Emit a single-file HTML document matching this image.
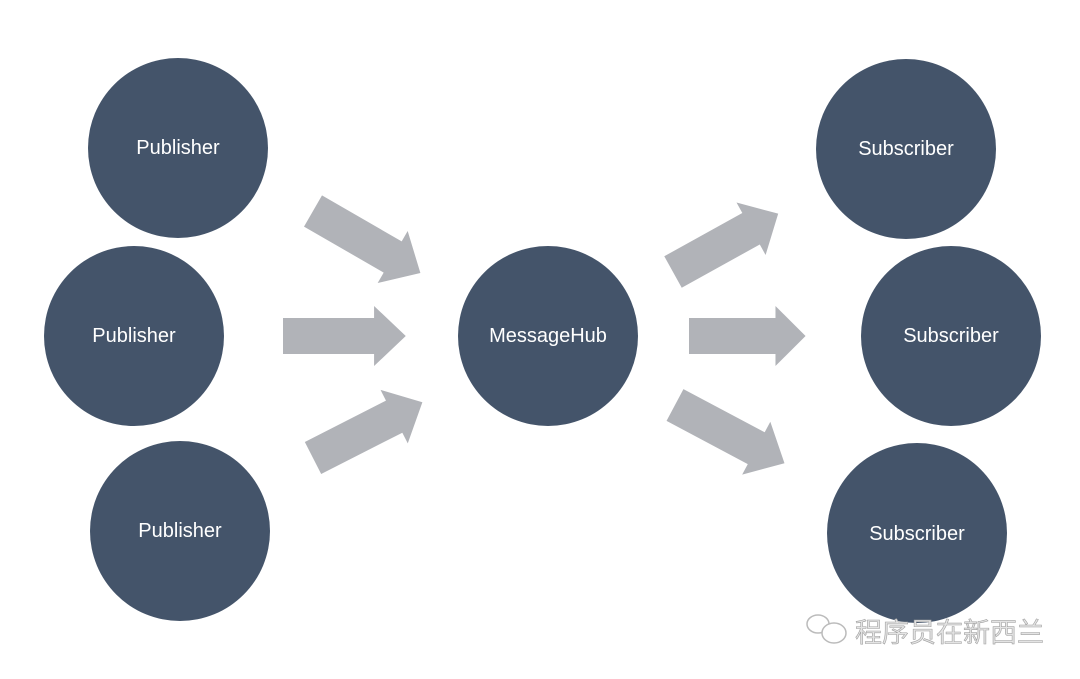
<!DOCTYPE html>
<html><head><meta charset="utf-8"><style>
html,body{margin:0;padding:0;background:#fff;}
svg{display:block;}
</style></head><body>
<svg width="1080" height="679" viewBox="0 0 1080 679" xmlns="http://www.w3.org/2000/svg">
<defs>
<path id="ar" d="M0,-18 L92,-18 L92,-30 L124,0 L92,30 L92,18 L0,18 Z" fill="#B1B3B8"/>
</defs>
<g fill="#44546A">
<circle cx="178" cy="148" r="90"/>
<circle cx="134" cy="336" r="90"/>
<circle cx="180" cy="531" r="90"/>
<circle cx="548" cy="336" r="90"/>
<circle cx="906" cy="149" r="90"/>
<circle cx="951" cy="336" r="90"/>
<circle cx="917" cy="533" r="90"/>
</g>
<g fill="#fff" font-family="Liberation Sans, sans-serif" font-size="20" text-anchor="middle">
<text x="178" y="154">Publisher</text>
<text x="134" y="342">Publisher</text>
<text x="180" y="537">Publisher</text>
<text x="548" y="342">MessageHub</text>
<text x="906" y="155">Subscriber</text>
<text x="951" y="342">Subscriber</text>
<text x="917" y="540">Subscriber</text>
</g>
<use href="#ar" transform="translate(313,211) rotate(30) scale(1,1)"/>
<use href="#ar" transform="translate(283,336) scale(0.99,1)"/>
<use href="#ar" transform="translate(313,458) rotate(-27) scale(0.99,1)"/>
<use href="#ar" transform="translate(673,272) rotate(-29) scale(0.97,1)"/>
<use href="#ar" transform="translate(689,336) scale(0.94,1)"/>
<use href="#ar" transform="translate(675,405) rotate(28) scale(1,1)"/>
<g fill="none" stroke="#bbb" stroke-width="1.5">
<ellipse cx="818" cy="624" rx="11" ry="9"/>
<ellipse cx="834" cy="633" rx="12" ry="10" fill="#fff"/>
</g>
<text x="855" y="642" font-family="Liberation Sans, Noto Sans CJK SC, sans-serif" font-size="27" fill="#e4e4e4" stroke="#a0a0a0" stroke-width="0.6">程序员在新西兰</text>
</svg>
</body></html>
